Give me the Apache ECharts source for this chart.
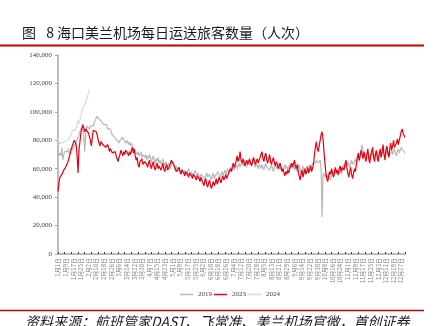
<!DOCTYPE html>
<html><head><meta charset="utf-8">
<script src="https://cdn.jsdelivr.net/npm/echarts@6/dist/echarts.min.js"></script>
<style>html,body{margin:0;padding:0;background:#fff}#c{width:434px;height:326px}</style>
</head><body><div id="c"></div>
<script>
const monthDays = [31,28,31,30,31,30,31,31,30,31,30,31];
const categories = [];
monthDays.forEach((n, m) => { for (let d = 1; d <= n; d++) categories.push((m + 1) + '月' + d + '日'); });
const seriesNames = ['2019', '2023', '2024'];
const yMin = 0, yMax = 140000, yStep = 20000;

const data2019 = [
68000,67000,71000,69000,75000,66000,70000,72000,71000,73000,72000,74000,70000,72000,75000,73000,74000,76000,75000,78000,80000,82000,84000,86000,88000,89000,90000,84000,72000,84000,90000,
91000,89000,88000,90000,89000,91000,90000,92000,94000,95000,97000,98000,95000,94000,96000,93000,92000,91000,92000,90000,91000,88000,89000,87000,88000,85000,86000,84000,
82000,83000,81000,80000,79000,78000,80000,79000,81000,82000,80000,81000,78000,80000,79000,77000,79000,76000,78000,76000,74000,75000,72000,73000,70000,72000,69000,70000,72000,68000,70000,
71000,68000,70000,66000,69000,67000,70000,68000,65000,67000,69000,66000,64000,67000,65000,68000,64000,66000,63000,65000,67000,64000,62000,65000,63000,61000,64000,62000,60000,63000,
65000,63000,61000,59000,62000,60000,58000,61000,59000,57000,60000,58000,56000,59000,57000,55000,58000,60000,57000,55000,58000,56000,54000,57000,59000,56000,54000,57000,55000,53000,56000,
55000,57000,54000,52000,55000,57000,54000,53000,56000,54000,52000,55000,57000,53000,55000,54000,56000,58000,55000,53000,56000,58000,55000,57000,59000,56000,58000,60000,57000,59000,
61000,58000,60000,62000,59000,61000,63000,60000,62000,64000,61000,63000,65000,62000,64000,66000,63000,61000,64000,66000,63000,65000,62000,64000,66000,63000,61000,64000,62000,60000,63000,
62000,60000,63000,61000,59000,62000,64000,61000,60000,62000,59000,61000,63000,60000,58000,61000,63000,60000,62000,64000,61000,59000,62000,60000,58000,61000,63000,60000,62000,59000,61000,
63000,60000,62000,64000,61000,59000,62000,60000,58000,61000,63000,59000,57000,60000,62000,59000,57000,60000,62000,59000,61000,63000,60000,62000,64000,63000,65000,64000,66000,65000,
64000,65000,66000,60000,26000,55000,57000,54000,56000,53000,55000,57000,54000,52000,55000,57000,54000,56000,58000,56000,58000,55000,57000,59000,56000,58000,61000,63000,61000,64000,62000,
65000,63000,61000,64000,66000,63000,62000,65000,67000,64000,66000,68000,65000,70000,74000,77000,72000,69000,71000,68000,70000,72000,69000,67000,70000,72000,69000,71000,68000,70000,
72000,69000,67000,70000,72000,68000,71000,73000,70000,68000,71000,73000,70000,72000,69000,71000,73000,70000,72000,74000,71000,69000,72000,74000,71000,73000,75000,74000,73000,72000,71000
];

const data2023 = [
44000,50000,54000,53000,56000,57000,59000,58000,61000,62000,64000,66000,69000,71000,74000,76000,78000,80000,81000,77000,70000,57000,73000,79000,85000,88000,91000,89000,86000,88000,87000,
88000,85000,84000,80000,76000,82000,87000,86000,87000,86000,84000,81000,78000,76000,79000,78000,77000,76000,77000,75000,74000,77000,75000,72000,74000,73000,71000,72000,
70000,72000,69000,67000,65000,68000,70000,73000,71000,69000,72000,70000,73000,74000,71000,69000,72000,70000,73000,75000,71000,74000,69000,66000,68000,63000,61000,65000,64000,67000,63000,
62000,65000,66000,63000,61000,64000,66000,62000,60000,63000,65000,61000,59000,62000,64000,60000,62000,63000,59000,61000,64000,60000,58000,61000,63000,59000,60000,62000,64000,66000,
67000,65000,62000,60000,58000,57000,59000,61000,58000,56000,59000,60000,57000,55000,58000,59000,56000,54000,57000,58000,55000,53000,56000,57000,54000,52000,55000,56000,53000,51000,54000,
52000,50000,48000,51000,53000,49000,47000,50000,52000,48000,46000,49000,51000,48000,50000,53000,49000,51000,54000,52000,50000,53000,55000,52000,54000,56000,53000,55000,57000,58000,
60000,58000,62000,64000,61000,63000,66000,69000,65000,67000,72000,66000,64000,67000,65000,62000,64000,66000,63000,65000,67000,64000,62000,65000,68000,66000,63000,65000,67000,64000,66000,
68000,70000,72000,67000,65000,69000,71000,66000,64000,67000,70000,65000,63000,66000,68000,64000,62000,65000,63000,60000,62000,64000,61000,58000,60000,57000,55000,58000,56000,59000,57000,
60000,62000,64000,61000,63000,66000,62000,60000,63000,58000,55000,52000,56000,59000,54000,57000,60000,56000,58000,61000,57000,59000,62000,58000,60000,63000,70000,75000,79000,74000,
72000,76000,80000,84000,86000,81000,72000,64000,57000,53000,51000,55000,58000,56000,60000,57000,54000,58000,61000,57000,59000,56000,60000,62000,58000,61000,62000,59000,63000,66000,61000,
57000,54000,58000,61000,56000,53000,57000,60000,58000,63000,68000,71000,66000,69000,73000,70000,67000,72000,68000,65000,70000,74000,67000,64000,69000,72000,75000,68000,65000,70000,
73000,67000,65000,71000,74000,68000,72000,77000,70000,66000,73000,76000,71000,68000,74000,78000,73000,76000,80000,75000,74000,78000,81000,77000,80000,83000,86000,88000,85000,84000,82000
];

const data2024 = [
81500,79000,77500,78000,77000,78500,79000,78000,79500,80000,79000,80500,81500,81000,84000,87000,86000,88000,87000,88500,91000,94000,92000,93000,97000,100000,103000,102000,105000,107000,108000,111000,113000,115500
];

const colors = {'2019': '#B8B8B8', '2023': '#E60012', '2024': '#CFDAF1'};
const seriesData = {'2019': data2019, '2023': data2023, '2024': data2024};

const chart = echarts.init(document.getElementById('c'), null, {renderer: 'canvas'});
chart.setOption({
  animation: false,
  backgroundColor: '#fff',
  grid: {left: 58, right: 29, top: 55, bottom: 72},
  legend: {
    data: seriesNames, top: 286, left: 175, icon: 'rect', itemWidth: 13, itemHeight: 1.5, itemGap: 2,
    textStyle: {fontSize: 7, color: '#404040', fontFamily: 'Liberation Serif'}
  },
  xAxis: {
    type: 'category', data: categories, boundaryGap: false,
    axisLine: {lineStyle: {color: '#A6A6A6', width: 1.5}},
    axisTick: {interval: 6, inside: true, length: 2, lineStyle: {color: '#404040'}},
    axisLabel: {interval: 7, rotate: 90, fontSize: 6, color: '#808080', fontFamily: 'Noto Sans CJK SC', margin: 4}
  },
  yAxis: {
    type: 'value', min: yMin, max: yMax, interval: yStep,
    axisLine: {show: true, lineStyle: {color: '#A6A6A6', width: 1.5}},
    axisTick: {show: true, length: 3, lineStyle: {color: '#A6A6A6'}},
    splitLine: {show: false},
    axisLabel: {fontSize: 7, color: '#404040', fontFamily: 'Liberation Serif', margin: 6,
      formatter: v => v.toLocaleString('en-US')}
  },
  series: seriesNames.map(n => ({
    name: n, type: 'line', data: seriesData[n], symbol: 'none', smooth: false,
    lineStyle: {width: 1.2, color: colors[n]}, itemStyle: {color: colors[n]}
  })),
  graphic: [
    {type: 'text', left: 22, top: 26, style: {text: '图\u2002 8 海口美兰机场每日运送旅客数量（人次）', font: '14px "Noto Sans CJK SC"', fill: '#1a1a1a'}},
    {type: 'line', shape: {x1: 0, y1: 45.5, x2: 424, y2: 45.5}, style: {stroke: '#C00000', lineWidth: 2}},
    {type: 'line', shape: {x1: 0, y1: 310.5, x2: 424, y2: 310.5}, style: {stroke: '#C00000', lineWidth: 1.5}},
    {type: 'text', left: 25, top: 315, style: {text: '资料来源：航班管家DAST、飞常准、美兰机场官微，首创证券', font: 'italic 14px "Noto Sans CJK SC"', fill: '#1a1a1a'}}
  ]
});
</script>
</body></html>
